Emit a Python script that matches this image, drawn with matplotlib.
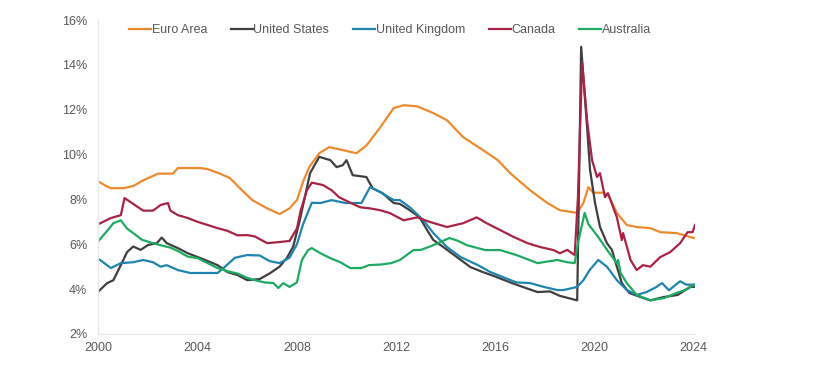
"""
Unemployment rates 2000-2024: Euro Area, US, UK, Canada, Australia.
"""

import matplotlib.pyplot as plt

# Values (year, % unemployment)
euro_years = [2000.0, 2000.3, 2000.5, 2001.0, 2001.4, 2001.8, 2002.4, 2003.0, 2003.2, 2004.1,
              2004.4, 2004.9, 2005.3, 2005.7, 2006.2, 2006.8, 2007.3, 2007.7, 2008.0, 2008.25,
              2008.5, 2008.9, 2009.3, 2009.85, 2010.4, 2010.8, 2011.35, 2011.9, 2012.3, 2012.85,
              2013.5, 2014.05, 2014.7, 2015.5, 2016.1, 2016.6, 2017.4, 2018.1, 2018.6, 2019.0,
              2019.3, 2019.55, 2019.75, 2019.95, 2020.35, 2020.55, 2020.9, 2021.3, 2021.7, 2022.25,
              2022.65, 2023.3, 2024.0]
euro_vals = [8.8, 8.6, 8.5, 8.5, 8.6, 8.85, 9.15, 9.15, 9.4, 9.4,
             9.35, 9.15, 8.95, 8.5, 7.97, 7.6, 7.35, 7.6, 7.97, 8.8,
             9.45, 10.06, 10.33, 10.2, 10.06, 10.4, 11.2, 12.07, 12.2, 12.15,
             11.85, 11.53, 10.78, 10.2, 9.75, 9.17, 8.41, 7.84, 7.52, 7.45,
             7.4, 7.84, 8.55, 8.3, 8.3, 8.2, 7.4, 6.86, 6.77, 6.72,
             6.54, 6.5, 6.28]

us_years = [2000.0, 2000.35, 2000.6, 2000.9, 2001.15, 2001.4, 2001.7, 2002.0, 2002.35, 2002.55,
            2002.75, 2003.2, 2003.6, 2004.0, 2004.3, 2004.8, 2005.2, 2005.6, 2006.0, 2006.5,
            2006.9, 2007.3, 2007.6, 2007.85, 2008.1, 2008.3, 2008.53, 2008.9, 2009.35, 2009.6,
            2009.85, 2010.0, 2010.25, 2010.8, 2011.05, 2011.45, 2011.9, 2012.15, 2012.55, 2012.95,
            2013.25, 2013.5, 2013.9, 2014.45, 2015.0, 2015.5, 2016.05, 2016.6, 2017.1, 2017.7,
            2018.2, 2018.6, 2019.3, 2019.46, 2019.7, 2019.82, 2020.02, 2020.22, 2020.5, 2020.7,
            2020.9, 2021.1, 2021.4, 2021.85, 2022.25, 2022.8, 2023.35, 2023.85, 2024.0]
us_vals = [3.9, 4.27, 4.4, 5.07, 5.65, 5.9, 5.75, 5.97, 6.05, 6.3,
           6.05, 5.83, 5.6, 5.43, 5.3, 5.07, 4.76, 4.63, 4.4, 4.45,
           4.7, 5.0, 5.4, 5.9, 7.0, 8.0, 9.17, 9.9, 9.75, 9.44,
           9.53, 9.75, 9.08, 9.0, 8.5, 8.28, 7.84, 7.8, 7.52, 7.2,
           6.63, 6.19, 5.88, 5.43, 4.98, 4.76, 4.54, 4.3, 4.1, 3.87,
           3.9, 3.7, 3.5, 14.8, 11.2, 9.3, 7.84, 6.77, 6.05, 5.75,
           5.0, 4.27, 3.83, 3.65, 3.5, 3.65, 3.74, 4.1, 4.1]

uk_years = [2000.0, 2000.5, 2000.9, 2001.4, 2001.8, 2002.2, 2002.5, 2002.75, 2003.2, 2003.7,
            2004.3, 2004.8, 2005.1, 2005.5, 2006.0, 2006.5, 2006.9, 2007.3, 2007.7, 2008.0,
            2008.25, 2008.6, 2008.95, 2009.4, 2009.95, 2010.6, 2010.95, 2011.35, 2011.9, 2012.15,
            2012.55, 2013.1, 2013.5, 2014.05, 2014.6, 2015.3, 2015.8, 2016.3, 2016.85, 2017.4,
            2017.95, 2018.5, 2018.75, 2019.3, 2019.55, 2019.8, 2020.15, 2020.5, 2020.9, 2021.3,
            2021.7, 2022.1, 2022.5, 2022.72, 2023.0, 2023.45, 2023.7, 2024.0]
uk_vals = [5.35, 4.94, 5.16, 5.2, 5.3, 5.2, 5.0, 5.07, 4.85, 4.72,
           4.72, 4.72, 5.0, 5.4, 5.52, 5.5, 5.25, 5.16, 5.4, 6.0,
           6.9, 7.85, 7.84, 7.97, 7.84, 7.84, 8.55, 8.33, 7.97, 7.97,
           7.65, 7.07, 6.5, 5.88, 5.43, 5.07, 4.76, 4.54, 4.3, 4.27,
           4.1, 3.96, 3.96, 4.1, 4.4, 4.85, 5.3, 5.0, 4.4, 3.96,
           3.74, 3.87, 4.1, 4.27, 3.95, 4.35, 4.2, 4.2]

canada_years = [2000.0, 2000.5, 2000.9, 2001.05, 2001.4, 2001.8, 2002.2, 2002.5, 2002.8, 2002.9,
                2003.2, 2003.6, 2004.0, 2004.4, 2004.8, 2005.2, 2005.6, 2006.0, 2006.3, 2006.8,
                2007.3, 2007.7, 2008.0, 2008.15, 2008.4, 2008.6, 2009.05, 2009.4, 2009.7, 2010.1,
                2010.55, 2010.95, 2011.35, 2011.75, 2012.3, 2012.85, 2013.35, 2014.05, 2014.7, 2015.25,
                2015.65, 2016.2, 2016.75, 2017.3, 2017.8, 2018.35, 2018.6, 2018.9, 2019.2, 2019.33,
                2019.5, 2019.7, 2019.9, 2020.1, 2020.22, 2020.42, 2020.54, 2020.9, 2021.1, 2021.15,
                2021.45, 2021.7, 2021.95, 2022.25, 2022.65, 2023.05, 2023.45, 2023.75, 2023.95, 2024.05]
canada_vals = [6.9, 7.17, 7.3, 8.06, 7.8, 7.5, 7.5, 7.75, 7.84, 7.5,
               7.3, 7.17, 7.0, 6.86, 6.72, 6.6, 6.4, 6.41, 6.35, 6.05,
               6.1, 6.15, 6.7, 7.5, 8.4, 8.75, 8.64, 8.41, 8.1, 7.88,
               7.65, 7.6, 7.52, 7.39, 7.07, 7.2, 7.0, 6.77, 6.94, 7.2,
               6.94, 6.63, 6.32, 6.05, 5.88, 5.74, 5.6, 5.75, 5.52, 8.1,
               14.1, 11.5, 9.75, 9.0, 9.17, 8.1, 8.28, 7.2, 6.19, 6.5,
               5.3, 4.85, 5.07, 5.0, 5.43, 5.65, 6.05, 6.54, 6.54, 6.86]

aus_years = [2000.0, 2000.35, 2000.6, 2000.9, 2001.15, 2001.4, 2001.75, 2002.2, 2002.5, 2002.9,
             2003.2, 2003.6, 2004.0, 2004.4, 2004.8, 2005.2, 2005.6, 2006.0, 2006.3, 2006.7,
             2007.05, 2007.25, 2007.45, 2007.7, 2008.0, 2008.2, 2008.45, 2008.6, 2008.95, 2009.35,
             2009.75, 2010.15, 2010.6, 2010.9, 2011.4, 2011.8, 2012.15, 2012.7, 2013.0, 2013.5,
             2014.15, 2014.5, 2014.85, 2015.6, 2016.2, 2016.85, 2017.7, 2018.5, 2018.9, 2019.2,
             2019.33, 2019.6, 2019.75, 2020.15, 2020.6, 2020.9, 2020.95, 2021.05, 2021.3, 2021.7,
             2022.25, 2022.8, 2023.35, 2023.75, 2024.0]
aus_vals = [6.15, 6.6, 6.94, 7.07, 6.7, 6.5, 6.2, 6.05, 5.96, 5.85,
            5.7, 5.45, 5.38, 5.16, 4.94, 4.8, 4.7, 4.5, 4.4, 4.3,
            4.27, 4.05, 4.27, 4.1, 4.3, 5.3, 5.74, 5.83, 5.6, 5.38,
            5.2, 4.94, 4.94, 5.07, 5.1, 5.16, 5.3, 5.74, 5.75, 5.96,
            6.28, 6.15, 5.96, 5.74, 5.74, 5.52, 5.16, 5.3, 5.2, 5.16,
            6.05, 7.4, 6.9, 6.32, 5.6, 5.16, 5.3, 4.72, 4.27, 3.74,
            3.5, 3.6, 3.85, 4.0, 4.2]

series = [
    ("Euro Area", euro_years, euro_vals, "#EE8A2E"),
    ("United States", us_years, us_vals, "#3F3F3F"),
    ("United Kingdom", uk_years, uk_vals, "#1F84AE"),
    ("Canada", canada_years, canada_vals, "#A82344"),
    ("Australia", aus_years, aus_vals, "#1EAA60"),
]

x_ticks = [2000, 2004, 2008, 2012, 2016, 2020, 2024]
y_ticks = [2, 4, 6, 8, 10, 12, 14, 16]

plt.rcParams['font.family'] = ['Liberation Sans', 'DejaVu Sans']

fig = plt.figure(figsize=(8.2, 3.77), dpi=100)
ax = fig.add_axes([98.5 / 820, 1 - 334 / 377, (695 - 98.5) / 820, (334 - 20) / 377])

for name, yrs, vals, color in series:
    ax.plot(yrs, vals, color=color, lw=1.6, label=name, solid_joinstyle='round')

ax.set_xlim(2000, 2024.05)
ax.set_ylim(2, 16)
ax.set_xticks(x_ticks)
ax.set_xticklabels([str(t) for t in x_ticks])
ax.set_yticks(y_ticks)
ax.set_yticklabels([f"{t}%" for t in y_ticks])
ax.tick_params(length=0, labelsize=9, colors="#595959")
ax.tick_params(axis="y", pad=8)
ax.tick_params(axis="x", pad=6)

for side in ["top", "right"]:
    ax.spines[side].set_visible(False)
for side in ["left", "bottom"]:
    ax.spines[side].set_color("#E6E6E6")
    ax.spines[side].set_linewidth(1)

fig.legend(loc="center left", bbox_to_anchor=(129 / 820, 1 - 30 / 377), ncol=5,
           frameon=False, fontsize=9, handlelength=1.76, handletextpad=0.05,
           columnspacing=1.9, borderpad=0, borderaxespad=0, labelcolor="#595959")

fig.savefig("out.png", dpi=100)
